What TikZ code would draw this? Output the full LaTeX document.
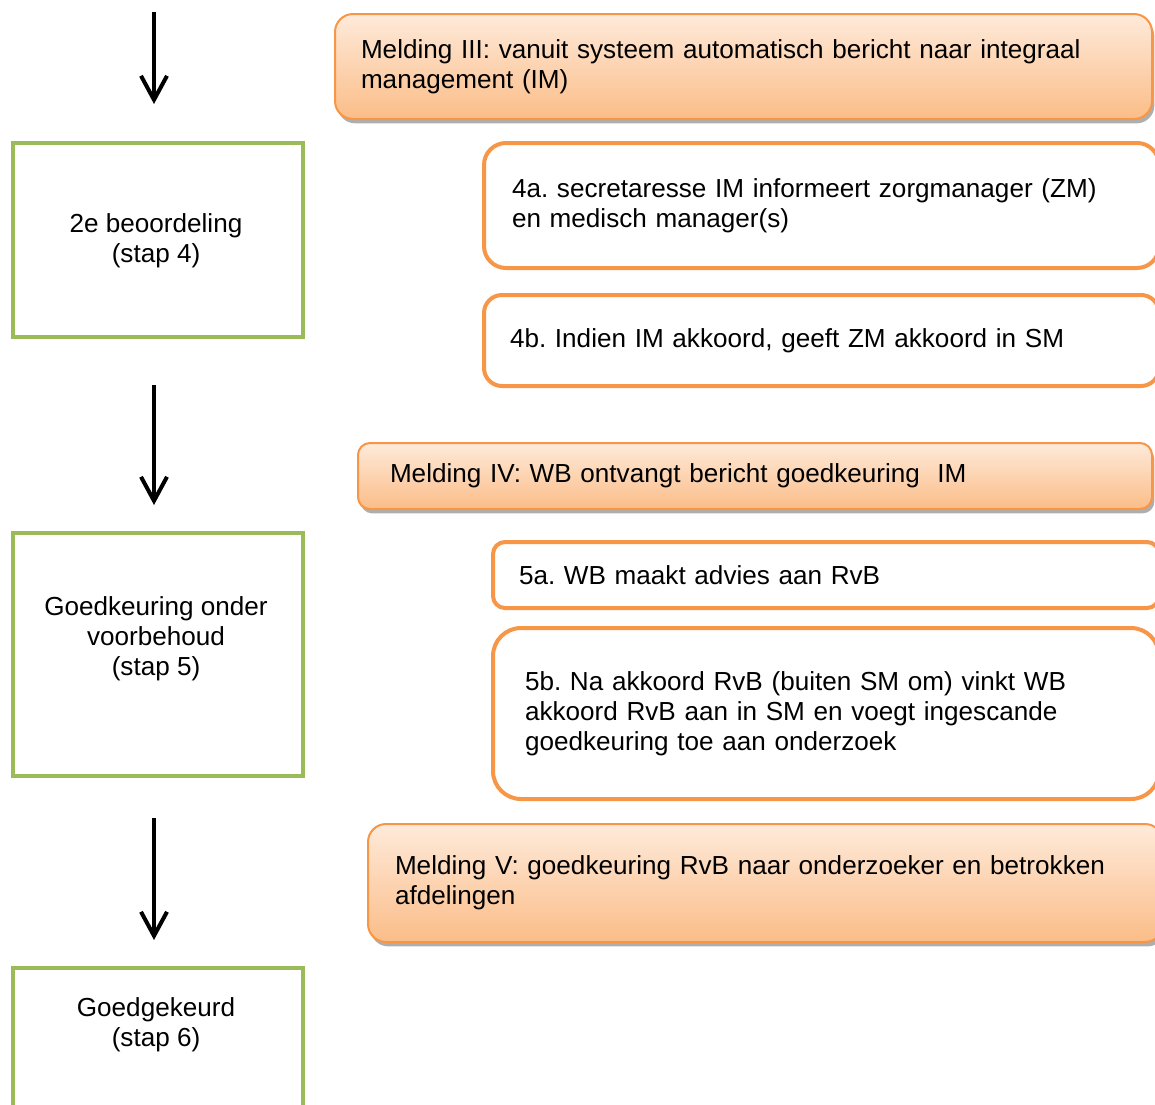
\documentclass[tikz,border=0pt]{standalone}
\usepackage{fontspec}
\setmainfont{Liberation Sans}
\usetikzlibrary{arrows.meta,shadows}
\definecolor{borange}{HTML}{F79646}
\definecolor{otop}{HTML}{FEEADA}
\definecolor{obot}{HTML}{FBBD88}
\definecolor{bgreen}{HTML}{9BBB59}
\frenchspacing
\tikzset{
  every node/.style={font=\fontsize{13.05}{15}\selectfont},
  melding/.style={draw=borange, line width=1pt, top color=otop, bottom color=obot,
    drop shadow={shadow xshift=1.2pt, shadow yshift=-2.2pt, fill=black!45, opacity=0.7},
    anchor=north west, align=left, inner ysep=0pt},
  substep/.style={draw=borange, line width=2pt, fill=white,
    anchor=north west, align=left, inner ysep=0pt},
  phase/.style={draw=bgreen, line width=2pt, anchor=north west, inner sep=0pt},
  phasetext/.style={align=center},
  flow/.style={line width=2pt, -{Straight Barb[length=12pt,width=13pt,line width=2pt]}},
}
\begin{document}
\begin{tikzpicture}[x=0.5pt,y=-0.5pt]
\useasboundingbox (0,0) rectangle (1155,1104);
\clip (0,0) rectangle (1155,1104);

% phase boxes
\node[phase, minimum width=290*0.5pt, minimum height=194*0.5pt] (p4) at (11,141) {};
\node[phasetext] (t4) at (156,241) {2e beoordeling\\(stap 4)};
\node[phase, minimum width=290*0.5pt, minimum height=243*0.5pt] (p5) at (11,531) {};
\node[phasetext] (t5) at (156,639) {Goedkeuring onder\\voorbehoud\\(stap 5)};
\node[phase, minimum width=290*0.5pt, minimum height=200*0.5pt] (p6) at (11,966) {};
\node[phasetext] (t6) at (156,1025) {Goedgekeurd\\(stap 6)};

% arrows
\coordinate (a1s) at (154,12);
\coordinate (a1e) at (154,104);
\coordinate (a2s) at (154,385);
\coordinate (a2e) at (154,505);
\coordinate (a3s) at (154,818);
\coordinate (a3e) at (154,940);
\draw[flow] (a1s) -- (a1e);
\draw[flow] (a2s) -- (a2e);
\draw[flow] (a3s) -- (a3e);

% melding boxes
\node[melding, rounded corners=9pt, minimum width=817*0.5pt, minimum height=105*0.5pt,
  inner xsep=13pt, text width=(817-52)*0.5pt] (m3) at (334,13)
  {\raisebox{-1pt}{Melding III: vanuit systeem automatisch bericht naar integraal}\\\raisebox{-1pt}{management (IM)}};
\node[melding, rounded corners=6pt, minimum width=794*0.5pt, minimum height=66*0.5pt,
  inner xsep=16pt, text width=(794-64)*0.5pt] (m4) at (357,442)
  {Melding IV: WB ontvangt bericht goedkeuring\ \ IM};
\node[melding, rounded corners=9pt, minimum width=795*0.5pt, minimum height=118*0.5pt,
  inner xsep=13.5pt, text width=(795-54)*0.5pt] (m5) at (367,823)
  {Melding V: goedkeuring RvB naar onderzoeker en betrokken\\afdelingen};

% sub steps
\node[substep, rounded corners=11pt, minimum width=675*0.5pt, minimum height=125*0.5pt,
  inner xsep=14pt, text width=(675-56)*0.5pt] (s4a) at (482,141)
  {4a. secretaresse IM informeert zorgmanager (ZM)\\en medisch manager(s)};
\node[substep, rounded corners=9pt, minimum width=675*0.5pt, minimum height=91*0.5pt,
  inner xsep=13pt, text width=(675-52)*0.5pt] (s4b) at (482,293)
  {4b. Indien IM akkoord, geeft ZM akkoord in SM};
\node[substep, rounded corners=6pt, minimum width=666*0.5pt, minimum height=66*0.5pt,
  inner xsep=13pt, text width=(666-52)*0.5pt] (s5a) at (491,540)
  {5a. WB maakt advies aan RvB};
\node[substep, rounded corners=14pt, minimum width=666*0.5pt, minimum height=171*0.5pt,
  inner xsep=16pt, text width=(666-64)*0.5pt] (s5b) at (491,626)
  {5b. Na akkoord RvB (buiten SM om) vinkt WB\\akkoord RvB aan in SM en voegt ingescande\\goedkeuring toe aan onderzoek};
\end{tikzpicture}
\end{document}
